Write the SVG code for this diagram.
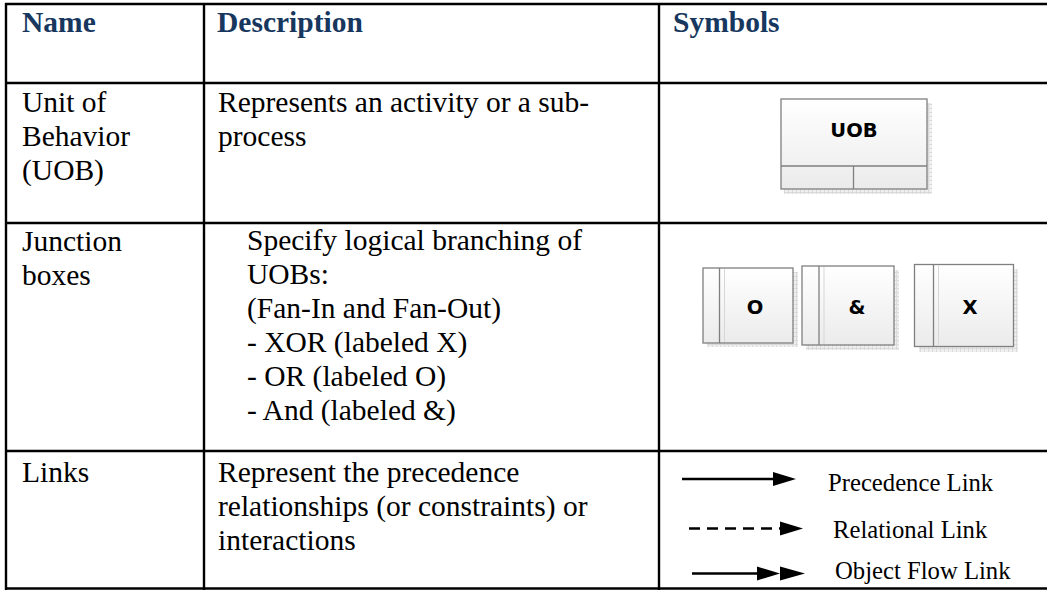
<svg xmlns="http://www.w3.org/2000/svg" width="1047" height="590" viewBox="0 0 1047 590">
<defs>
<linearGradient id="boxg" x1="0" y1="0" x2="0" y2="1">
<stop offset="0" stop-color="#ffffff"/>
<stop offset="1" stop-color="#ebebeb"/>
</linearGradient>
<pattern id="shp" width="4" height="4" patternUnits="userSpaceOnUse">
<rect width="4" height="4" fill="#efefef"/>
<path d="M0,0.5 H4 M0.5,0 V4" stroke="#dadada" stroke-width="1"/>
</pattern>
<marker id="tri" viewBox="0 0 23 14" refX="0" refY="7" markerWidth="23" markerHeight="14" markerUnits="userSpaceOnUse" orient="auto">
<path d="M0,0 L23,7 L0,14 Z" fill="#000"/>
</marker>
</defs>
<style>
.grid{stroke:#000;stroke-width:2.4;fill:none}
.hd{font-family:"Liberation Serif","Times New Roman",serif;font-weight:bold;font-size:29.5px;fill:#17375e}
.tx{font-family:"Liberation Serif","Times New Roman",serif;font-size:29.5px;fill:#000}
.lk{font-family:"Liberation Serif","Times New Roman",serif;font-size:24.7px;fill:#000}
.box{fill:url(#boxg);stroke:#7f7f7f;stroke-width:1.3}
.sh{fill:url(#shp)}
.in{stroke:#7f7f7f;stroke-width:1.3}
.fa{stroke:#d6d6d6;stroke-width:1}
.sym{font-family:"DejaVu Sans",Verdana,sans-serif;font-weight:bold;font-size:19.5px;fill:#000;text-anchor:middle}
.ln{stroke:#000;stroke-width:2.6;fill:none}
</style>
<rect width="1047" height="590" fill="#fff"/>
<g id="table">
<line class="grid" x1="5" y1="4" x2="1047" y2="4"/>
<line class="grid" x1="5" y1="83" x2="1047" y2="83"/>
<line class="grid" x1="5" y1="223" x2="1047" y2="223"/>
<line class="grid" x1="5" y1="451" x2="1047" y2="451"/>
<line class="grid" x1="5" y1="588.5" x2="1047" y2="588.5"/>
<line class="grid" x1="6" y1="3" x2="6" y2="590"/>
<line class="grid" x1="204" y1="3" x2="204" y2="590"/>
<line class="grid" x1="659" y1="3" x2="659" y2="590"/>
</g>
<g id="header">
<text class="hd" x="22" y="32">Name</text>
<text class="hd" x="217" y="32">Description</text>
<text class="hd" x="673" y="32">Symbols</text>
</g>
<g id="row-uob">
<text class="tx" x="22" y="112">Unit of</text>
<text class="tx" x="22" y="146">Behavior</text>
<text class="tx" x="22" y="180">(UOB)</text>
<text class="tx" x="218" y="112">Represents an activity or a sub-</text>
<text class="tx" x="218" y="146">process</text>
</g>
<g id="uob-symbol">
<rect class="sh" x="784" y="103" width="148" height="91"/>
<rect class="box" x="781" y="99" width="146" height="90"/>
<line class="in" x1="781" y1="166" x2="927" y2="166"/>
<line class="in" x1="853.5" y1="166" x2="853.5" y2="189"/>
<text class="sym" x="854" y="137">UOB</text>
</g>
<g id="row-junction">
<text class="tx" x="22" y="251">Junction</text>
<text class="tx" x="22" y="285">boxes</text>
<text class="tx" x="247" y="250">Specify logical branching of</text>
<text class="tx" x="247" y="284">UOBs:</text>
<text class="tx" x="247" y="318">(Fan-In and Fan-Out)</text>
<text class="tx" x="247" y="352">- XOR (labeled X)</text>
<text class="tx" x="247" y="386">- OR (labeled O)</text>
<text class="tx" x="247" y="420">- And (labeled &amp;)</text>
</g>
<g id="junction-or">
<rect class="sh" x="707" y="272" width="91" height="75"/>
<rect class="box" x="703" y="268" width="90" height="75"/>
<line class="in" x1="719.5" y1="268" x2="719.5" y2="343"/>
<line class="fa" x1="724.5" y1="269" x2="724.5" y2="342"/>
<text class="sym" x="755" y="314">O</text>
</g>
<g id="junction-and">
<rect class="sh" x="806" y="270" width="93" height="80"/>
<rect class="box" x="802" y="266" width="92" height="79"/>
<line class="in" x1="819" y1="266" x2="819" y2="345"/>
<line class="fa" x1="824" y1="267" x2="824" y2="344"/>
<text class="sym" x="857" y="314">&amp;</text>
</g>
<g id="junction-xor">
<rect class="sh" x="919" y="269" width="99" height="83"/>
<rect class="box" x="914.5" y="264.5" width="99" height="82"/>
<line class="in" x1="933.5" y1="264.5" x2="933.5" y2="346.5"/>
<line class="fa" x1="938.5" y1="265.5" x2="938.5" y2="345.5"/>
<text class="sym" x="970" y="314">X</text>
</g>
<g id="row-links">
<text class="tx" x="22" y="482">Links</text>
<text class="tx" x="218" y="482">Represent the precedence</text>
<text class="tx" x="218" y="516">relationships (or constraints) or</text>
<text class="tx" x="218" y="550">interactions</text>
</g>
<g id="connectors">
<line class="ln" x1="682" y1="479" x2="773" y2="479" marker-end="url(#tri)"/>
<line class="ln" x1="689" y1="528.5" x2="780" y2="528.5" stroke-dasharray="11 7"/>
<path d="M780,521.5 L803,528.5 L780,535.5 Z" fill="#000"/>
<line class="ln" x1="692" y1="573.5" x2="757" y2="573.5"/>
<path d="M757,566.5 L780,573.5 L757,580.5 Z" fill="#000"/>
<path d="M780,566.5 L805,573.5 L780,580.5 Z" fill="#000"/>
</g>
<g id="link-labels">
<text class="lk" x="828" y="491">Precedence Link</text>
<text class="lk" x="833" y="538">Relational Link</text>
<text class="lk" x="835" y="579">Object Flow Link</text>
</g>
</svg>
